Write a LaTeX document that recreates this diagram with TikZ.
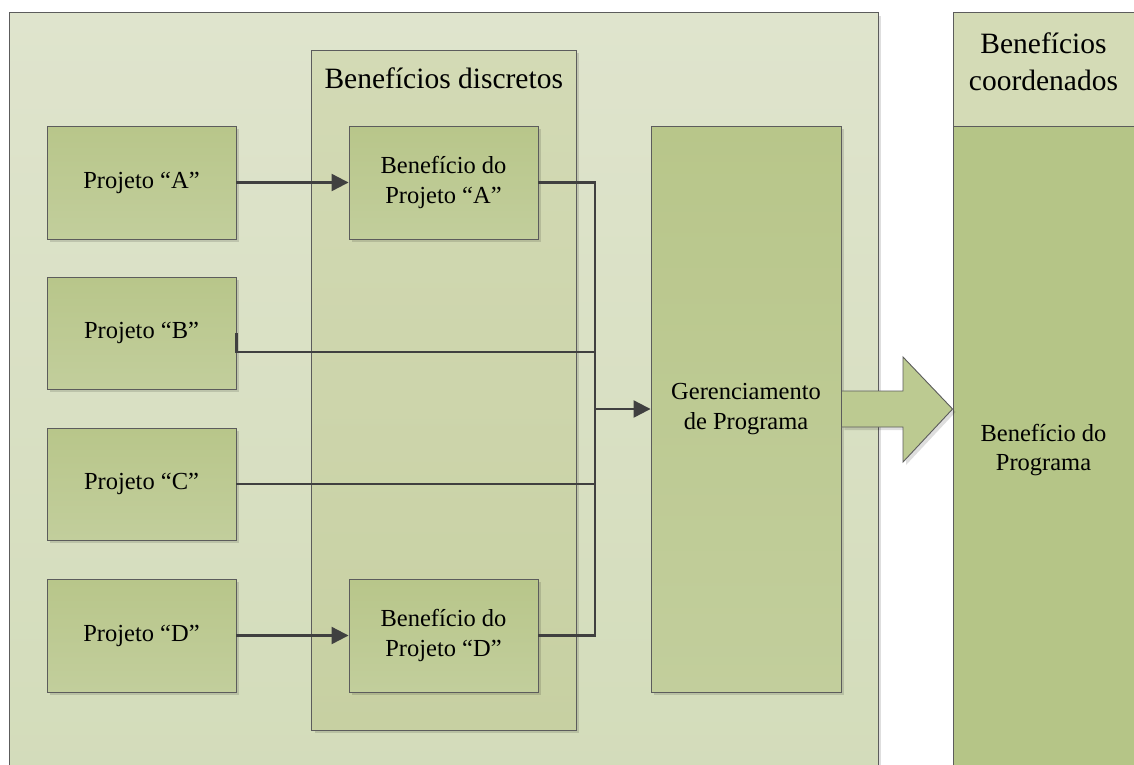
\documentclass[tikz,border=0pt]{standalone}
\usepackage{fontspec}
\setmainfont{Liberation Serif}
\usetikzlibrary{arrows.meta,shadows,calc}

\definecolor{edge}{HTML}{5C5C5C}
\definecolor{wire}{HTML}{404040}
\definecolor{panelTop}{HTML}{DFE4CD}
\definecolor{panelBot}{HTML}{D3DCBA}
\definecolor{colTop}{HTML}{D3DAB5}
\definecolor{colBot}{HTML}{C7D0A2}
\definecolor{boxTop}{HTML}{B8C68A}
\definecolor{boxBot}{HTML}{C2CE9C}
\definecolor{headFill}{HTML}{D4DBB6}
\definecolor{bodyFill}{HTML}{B5C587}
\definecolor{arrowFill}{HTML}{BCCA91}

\tikzset{
  shade/.style={drop shadow={shadow xshift=3pt,shadow yshift=-3pt,fill=black,opacity=0.13}},
  panelbox/.style={draw=edge,line width=0.9pt,top color=panelTop,bottom color=panelBot,
    inner sep=0pt,shade},
  colbox/.style={draw=edge,line width=0.9pt,top color=colTop,bottom color=colBot,
    inner sep=0pt,shade},
  stepbox/.style={draw=edge,line width=0.9pt,top color=boxTop,bottom color=boxBot,
    inner sep=0pt,shade,align=center,font=\fontsize{24.5}{29.4}\selectfont},
  flatbox/.style={draw=edge,line width=0.9pt,inner sep=0pt},
  caption/.style={inner sep=0pt,align=center,font=\fontsize{24.5}{29.4}\selectfont},
  bigcaption/.style={inner sep=0pt,align=center,font=\fontsize{29.5}{37}\selectfont},
  conn/.style={draw=wire,line width=2.2pt},
  tip/.style={-{Triangle[length=17pt,width=17pt]}},
}

\begin{document}
\begin{tikzpicture}[x=1pt,y=-1pt]
\useasboundingbox (0,0) rectangle (1134,764);
\clip (0,0) rectangle (1134,764);
\fill[white] (0,0) rectangle (1134,764);

% outer panel and the discrete-benefits column
\node[panelbox,minimum width=868.5pt,minimum height=770pt] (panel) at (443.75,397.5) {};
\node[colbox,minimum width=264.5pt,minimum height=680pt] (discretos) at (443.75,390) {};
\node[bigcaption] (disctitle) at (443.75,78) {Benefícios discretos};

% coordinated benefits column
\node[flatbox,fill=headFill,minimum width=190pt,minimum height=113.5pt] (coordhead) at (1048,69.25) {};
\node[flatbox,fill=bodyFill,minimum width=190pt,minimum height=660pt] (coordbody) at (1048,456) {};
\node[bigcaption] (coordtitle) at (1043.5,62) {Benefícios\\coordenados};
\node[caption] (progtext) at (1043.5,450) {Benefício do\\Programa};

% projects
\node[stepbox,minimum width=189pt,minimum height=113pt] (pA) at (141.5,182.5) {Projeto “A”};
\node[stepbox,minimum width=189pt,minimum height=112pt] (pB) at (141.5,333) {Projeto “B”};
\node[stepbox,minimum width=189pt,minimum height=112pt] (pC) at (141.5,484) {Projeto “C”};
\node[stepbox,minimum width=189pt,minimum height=113pt] (pD) at (141.5,635.5) {Projeto “D”};

% project benefits
\node[stepbox,minimum width=189pt,minimum height=113pt] (bA) at (443.5,182.5) {Benefício do\\Projeto “A”};
\node[stepbox,minimum width=189pt,minimum height=113pt] (bD) at (443.5,635.5) {Benefício do\\Projeto “D”};

% program management
\node[stepbox,minimum width=190pt,minimum height=566pt] (ger) at (746,409) {Gerenciamento\\de Programa};

% collecting bus
\coordinate (busx) at (595,0);
\coordinate (busB) at (595,352);

\draw[conn,tip] (pA.east) -- (bA.west);
\draw[conn,tip] (pD.east) -- (bD.west);
\draw[conn] (bA.east) -- (bA.east -| busx) -- (bD.east -| busx) -- (bD.east);
\draw[conn] (pB.east) |- (busB);
\draw[conn] (pC.east) -- (pC.east -| busx);
\draw[conn,tip] (ger.west -| busx) -- (ger.west);

% block arrow into the coordinated benefits
\draw[draw=edge,line width=0.9pt,fill=arrowFill,shade,line join=miter]
  (ger.east |- 0,391) -- (903,391) -- (903,357) -- (coordbody.west |- ger.east)
  -- (903,462) -- (903,427) -- (ger.east |- 0,427) -- cycle;
\end{tikzpicture}
\end{document}
